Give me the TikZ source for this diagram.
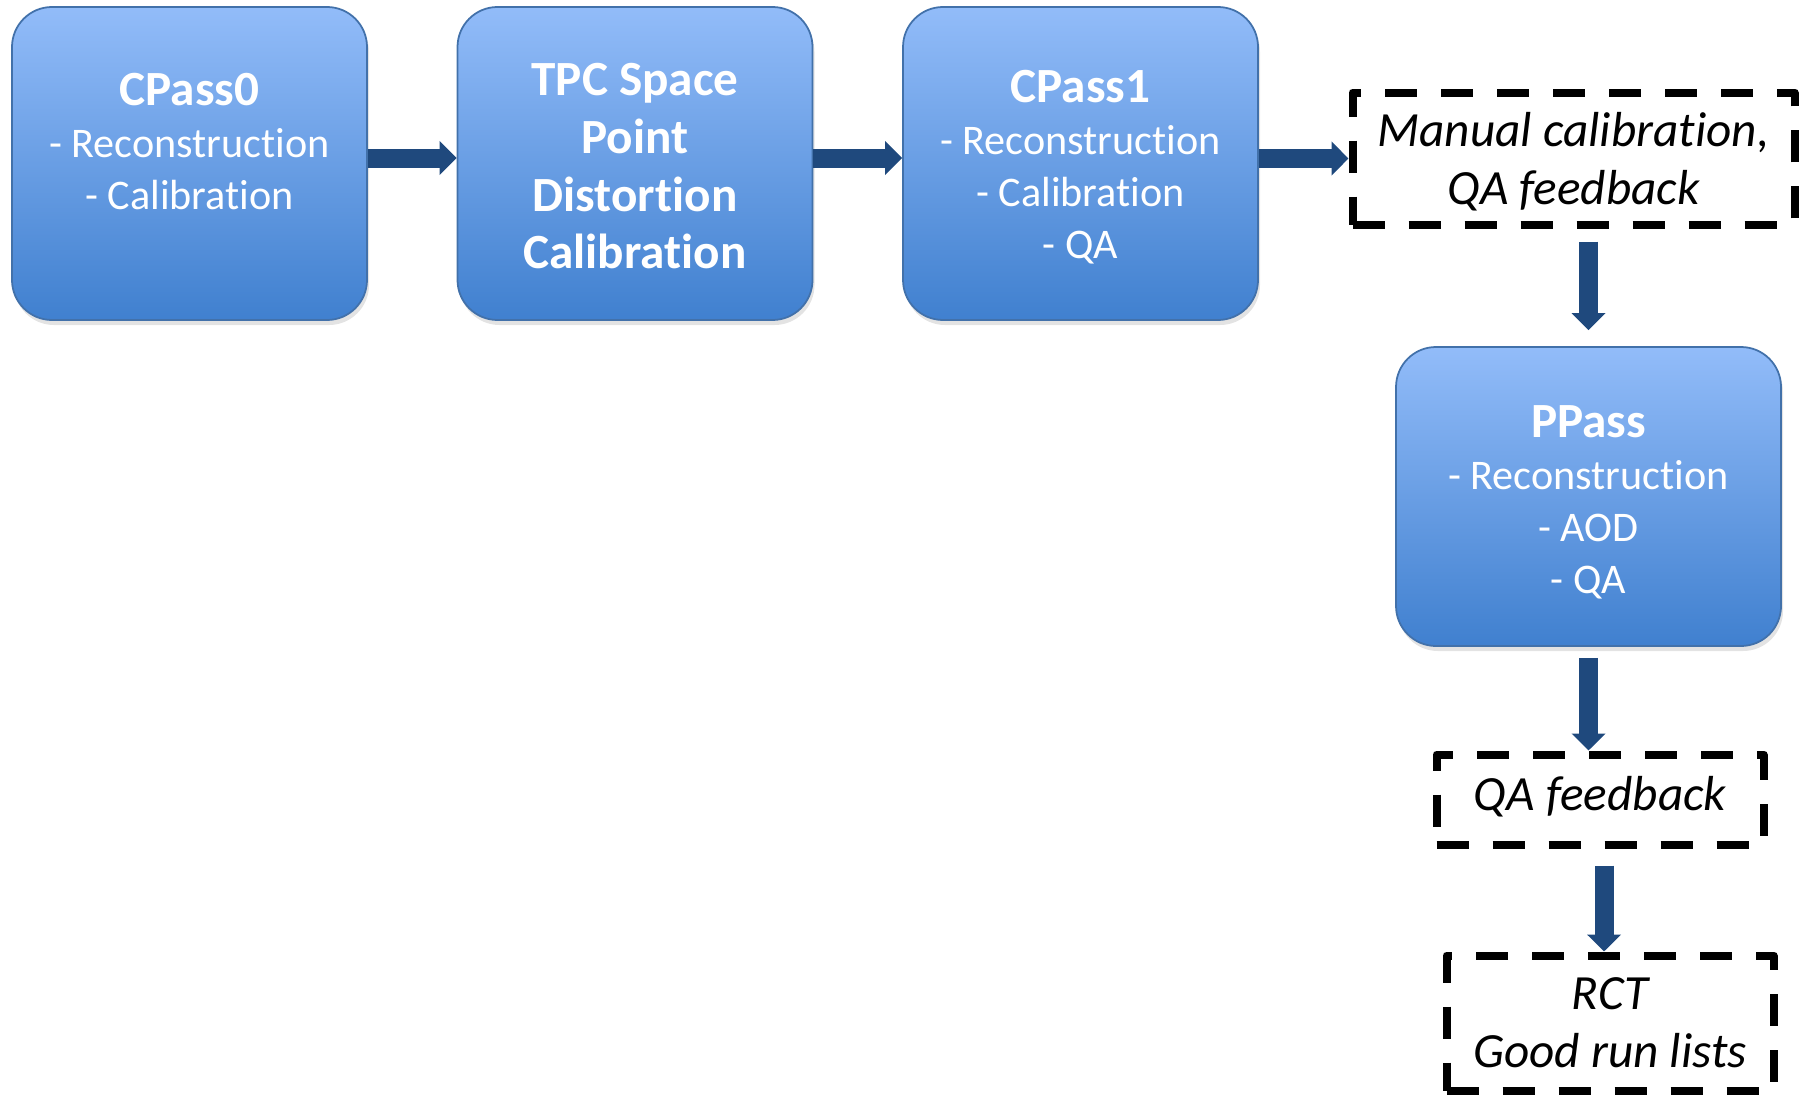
\documentclass[tikz,border=0pt]{standalone}
\usepackage{fontspec}
\setmainfont{Carlito}[Ligatures=NoCommon]
\usetikzlibrary{arrows.meta,shadows,positioning}
\definecolor{boxtop}{RGB}{146,188,249}
\definecolor{boxbot}{RGB}{64,128,207}
\definecolor{boxedge}{RGB}{66,113,170}
\definecolor{flowblue}{RGB}{31,73,125}

\begin{document}
\begin{tikzpicture}[
    pass/.style={draw=boxedge, line width=0.5pt, rounded corners=0.4cm,
                 top color=boxtop, bottom color=boxbot, text=white,
                 minimum width=3.55cm, minimum height=3.13cm,
                 align=center, inner sep=0pt,
                 font=\fontsize{12}{14.8}\selectfont,
                 drop shadow={shadow xshift=0.02cm, shadow yshift=-0.05cm,
                              opacity=0.22}},
    note/.style={draw=black, line width=0.08cm, line join=round,
                 dash pattern=on 0.32cm off 0.24cm,
                 align=center, inner sep=0pt,
                 font=\fontsize{14}{16.6}\selectfont\itshape},
    flow/.style={draw=flowblue, line width=0.19cm,
                 -{Triangle[width=0.33cm, length=0.17cm]}}]

  \useasboundingbox (0,0) rectangle (18.05,-10.94);

  %% Calibration passes
  \node[pass] (c0) at (1.895,-1.635)
    {{\fontsize{14}{16.6}\selectfont\bfseries\rule{0pt}{0.40cm}CPass0}\\- Reconstruction\\- Calibration\\\mbox{}};
  \node[pass, font=\fontsize{14}{16.4}\selectfont\bfseries] (tpc) at (6.35,-1.635)
    {\rule{0pt}{0.38cm}TPC Space\\Point\\Distortion\\Calibration};
  \node[pass] (c1) at (10.805,-1.635)
    {{\fontsize{14}{16.6}\selectfont\bfseries\rule{0pt}{0.40cm}CPass1}\\- Reconstruction\\- Calibration\\- QA};

  %% Feedback and production
  \node[note, minimum width=4.42cm, minimum height=1.32cm] (man) at (15.735,-1.585)
    {\rule{0pt}{0.40cm}Manual calibration,\\QA feedback};
  \node[pass, minimum width=3.85cm, minimum height=2.99cm] (pp) at (15.885,-4.965)
    {{\fontsize{14}{16.6}\selectfont\bfseries\rule{0pt}{0.43cm}PPass}\\- Reconstruction\\- AOD\\- QA};
  \node[note, minimum width=3.27cm, minimum height=0.90cm] (qa) at (16.00,-7.995)
    {QA feedback\rule[-0.12cm]{0pt}{0.1cm}};
  \node[note, minimum width=3.27cm, minimum height=1.35cm] (rct) at (16.10,-10.23)
    {RCT\\Good run lists};

  %% Arrows
  \draw[flow] ([yshift=0.055cm]c0.east) -- ([yshift=0.055cm]tpc.west);
  \draw[flow] ([yshift=0.055cm]tpc.east) -- ([yshift=0.055cm]c1.west);
  \draw[flow] (c1.east |- man.west) -- (man.west);
  \draw[flow, shorten <=0.13cm, shorten >=0.16cm] (pp.north |- man.south) -- (pp.north);
  \draw[flow, shorten <=0.11cm] (pp.south) -- (pp.south |- qa.north);
  \draw[flow, shorten <=0.17cm] ([xshift=0.04cm]qa.south) -- ([xshift=0.04cm]qa.south |- rct.north);
\end{tikzpicture}
\end{document}
